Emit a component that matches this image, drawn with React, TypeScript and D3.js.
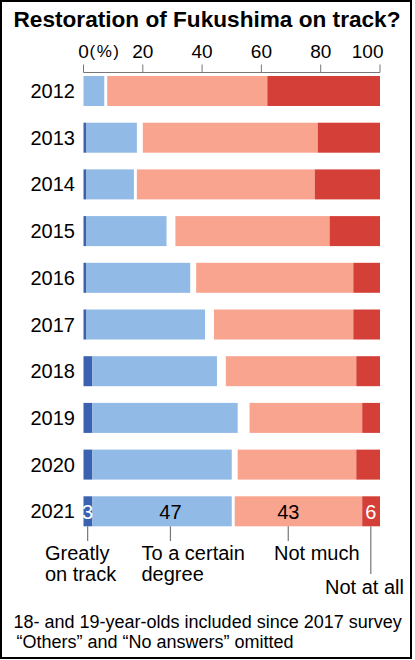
import React from 'react';
import * as d3 from 'd3';

const years = ['2012', '2013', '2014', '2015', '2016', '2017', '2018', '2019', '2020', '2021'];
const greatly = [0, 1, 1, 1, 1, 1, 3, 3, 3, 3];
const certain = [7, 17, 16, 27, 35, 40, 42, 49, 47, 47];
const notMuch = [54, 59, 60, 52, 53, 47, 44, 38, 40, 43];
const notAtAll = [38, 21, 22, 17, 9, 9, 8, 6, 8, 6];
const ticks = [0, 20, 40, 60, 80, 100];

const W = 415;
const H = 660;
const FONT = '"Liberation Sans", Arial, Helvetica, sans-serif';
const C_DARK = '#3a62b0';
const C_LIGHT = '#91bae6';
const C_PINK = '#f9a48f';
const C_RED = '#d44038';
const GRAY = '#777';

export default function App() {
  const x = d3.scaleLinear().domain([0, 100]).range([83.5, 380]);
  const step = 46.7;
  const pI = 1 - 30 / step;
  const y = d3
    .scaleBand<string>()
    .domain(years)
    .range([76 - step * (pI / 2), 76 - step * (pI / 2) + step * years.length])
    .paddingInner(pI)
    .paddingOuter(pI / 2);
  const bw = y.bandwidth();

  const last = years.length - 1;
  const yLast = y(years[last])!;
  const barBottom = yLast + bw;
  const g3 = greatly[last];
  const c3 = certain[last];
  const nm = notMuch[last];
  const na = notAtAll[last];
  const anchors = [
    { v: g3, px: x(g3 / 2) - 0.3, color: '#fff', lineEnd: 541 },
    { v: c3, px: x(g3 + c3 * 0.56), color: '#000', lineEnd: 541 },
    { v: nm, px: x(100 - na - nm * 0.58), color: '#000', lineEnd: 541 },
    { v: na, px: x(100 - na / 2) - 0.3, color: '#fff', lineEnd: 574 },
  ];

  return (
    <svg
      width={W}
      height={H}
      style={{ position: 'absolute', left: 0, top: 0, background: '#fff' }}
      fontFamily={FONT}
    >
      <rect x={0} y={0} width={W} height={H} fill="#fff" />
      <rect x={1} y={1} width={410} height={657} fill="none" stroke="#000" strokeWidth={2} />

      <text
        x={13.5}
        y={26.7}
        fontSize={22.5}
        fontWeight="bold"
        textLength={387}
        lengthAdjust="spacingAndGlyphs"
        fill="#000"
      >
        Restoration of Fukushima on track?
      </text>

      {/* axis */}
      <g stroke={GRAY} strokeWidth={1}>
        <line x1={x(0)} x2={x(100)} y1={72.5} y2={72.5} />
        {ticks.map((t) => (
          <line key={t} x1={x(t)} x2={x(t)} y1={64.5} y2={72.5} />
        ))}
      </g>
      {ticks.map((t) => (
        <text
          key={'t' + t}
          x={t === 100 ? x(t) + 3.5 : x(t)}
          y={57.5}
          fontSize={19}
          textAnchor={t === 100 ? 'end' : 'middle'}
          fill="#000"
        >
          {t}
        </text>
      ))}
      <text x={89.5} y={56.5} fontSize={17} letterSpacing={1.5} fill="#000">
        (%)
      </text>

      {/* bars */}
      {years.map((yr, i) => {
        const top = y(yr)!;
        const g = greatly[i];
        const c = certain[i];
        const n = notMuch[i];
        const a = notAtAll[i];
        return (
          <g key={yr}>
            <text x={75} y={top + bw / 2 + 7} fontSize={20} textAnchor="end" fill="#000">
              {yr}
            </text>
            {g > 0 && <rect x={x(0)} y={top} width={x(g) - x(0)} height={bw} fill={C_DARK} />}
            <rect x={x(g)} y={top} width={x(g + c) - x(g)} height={bw} fill={C_LIGHT} />
            <rect x={x(100 - a - n)} y={top} width={x(100 - a) - x(100 - a - n)} height={bw} fill={C_PINK} />
            <rect x={x(100 - a)} y={top} width={x(100) - x(100 - a)} height={bw} fill={C_RED} />
          </g>
        );
      })}

      {/* value labels and leaders for last year */}
      {anchors.map((an, k) => (
        <g key={'a' + k}>
          <text x={an.px} y={yLast + bw / 2 + 7.5} fontSize={20} textAnchor="middle" fill={an.color}>
            {an.v}
          </text>
          <line x1={an.px} x2={an.px} y1={barBottom} y2={an.lineEnd} stroke={GRAY} strokeWidth={1.2} />
        </g>
      ))}

      <g fontSize={20} fill="#000">
        <text x={45} y={560}>Greatly</text>
        <text x={45} y={581}>on track</text>
        <text x={141.5} y={560}>To a certain</text>
        <text x={141.5} y={581}>degree</text>
        <text x={274} y={560}>Not much</text>
        <text x={325} y={594}>Not at all</text>
      </g>

      <g fontSize={18} fill="#000">
        <text x={13.5} y={628}>18- and 19-year-olds included since 2017 survey</text>
        <text x={16.5} y={648}>“Others” and “No answers” omitted</text>
      </g>
    </svg>
  );
}
